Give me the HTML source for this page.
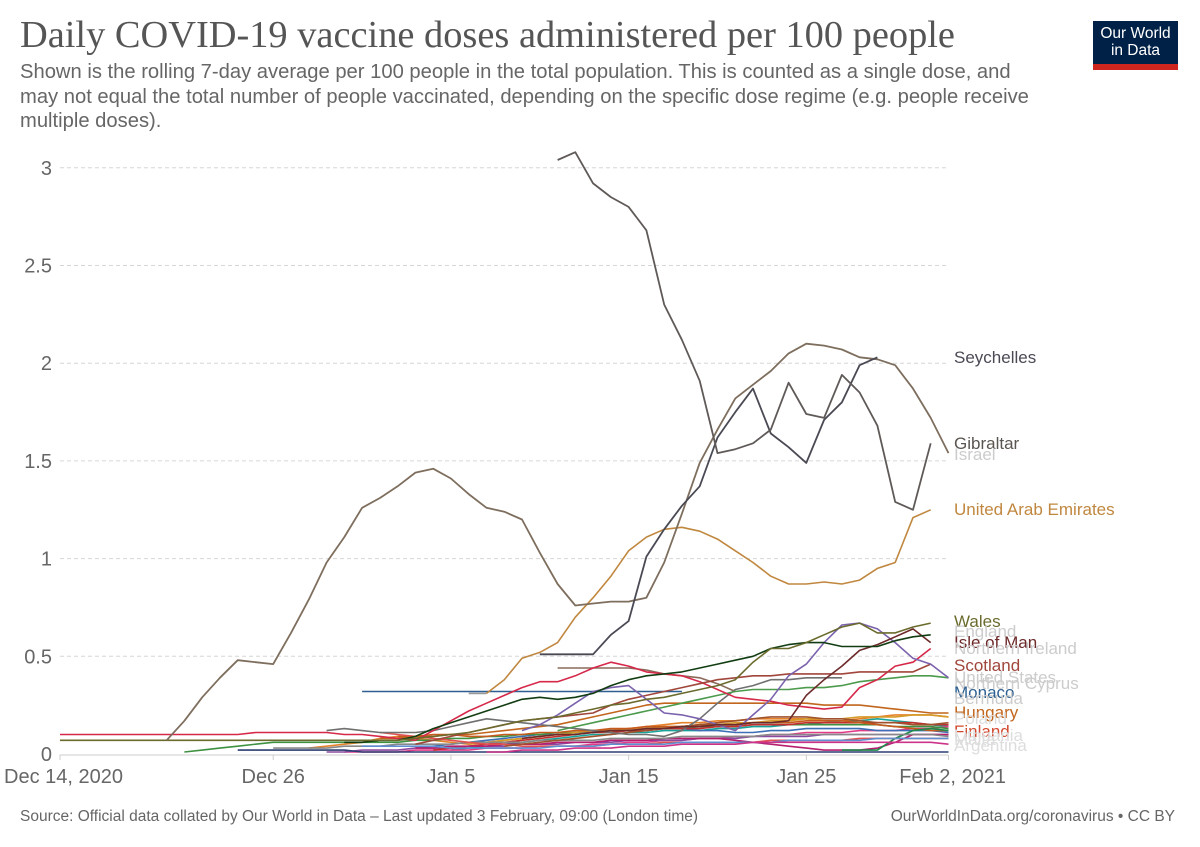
<!DOCTYPE html>
<html><head><meta charset="utf-8">
<style>
html,body{margin:0;padding:0;background:#fff;}
body{width:1200px;height:847px;position:relative;overflow:hidden;font-family:"Liberation Sans",Arial,sans-serif;}
#title{position:absolute;left:20px;top:13px;font-family:"Liberation Serif",serif;font-size:38.4px;line-height:44px;color:#555;white-space:nowrap;margin:0;font-weight:normal;}
#subtitle{position:absolute;left:20px;top:60px;width:1032px;font-size:20.2px;line-height:24.5px;color:#666;margin:0;}
#logo{position:absolute;left:1093px;top:21px;width:85px;height:49px;background:#002147;color:#fff;text-align:center;font-size:15.5px;line-height:17px;box-sizing:border-box;padding-top:4px;}
#logo .red{position:absolute;left:0;bottom:0;width:100%;height:6px;background:#ce261e;}
#source{position:absolute;left:20px;top:808px;font-size:15.5px;color:#666;white-space:nowrap;}
#license{position:absolute;right:25px;top:808px;font-size:15.5px;color:#666;white-space:nowrap;}
svg{position:absolute;left:0;top:0;}
</style></head>
<body>
<h1 id="title">Daily COVID-19 vaccine doses administered per 100 people</h1>
<p id="subtitle">Shown is the rolling 7-day average per 100 people in the total population. This is counted as a single dose, and may not equal the total number of people vaccinated, depending on the specific dose regime (e.g. people receive multiple doses).</p>
<div id="logo">Our World<br>in Data<div class="red"></div></div>
<svg id="chart" width="1200" height="847"></svg>
<div id="source">Source: Official data collated by Our World in Data – Last updated 3 February, 09:00 (London time)</div>
<div id="license">OurWorldInData.org/coronavirus • CC BY</div>
<script>
// ---- data (day index 0 = Dec 14, 2020) ----
const xTickDays = [0, 12, 22, 32, 42, 50];
const xTickLabels = ["Dec 14, 2020", "Dec 26", "Jan 5", "Jan 15", "Jan 25", "Feb 2, 2021"];
const yTicks = [0, 0.5, 1, 1.5, 2, 2.5, 3];
const yTickLabels = ["0", "0.5", "1", "1.5", "2", "2.5", "3"];

const israelStart = 6;
const israelValues = [.07,.17,.29,.39,.48,.47,.46,.62,.79,.98,1.11,1.26,1.31,1.37,1.44,1.46,1.41,1.33,1.26,1.24,1.20,1.03,.87,.76,.77,.78,.78,.80,.98,1.23,1.49,1.66,1.82,1.89,1.96,2.05,2.10,2.09,2.07,2.03,2.02,1.99,1.87,1.72,1.54];
const gibraltarStart = 28;
const gibraltarValues = [3.04,3.08,2.92,2.85,2.80,2.68,2.30,2.12,1.91,1.54,1.56,1.59,1.66,1.90,1.74,1.72,1.94,1.85,1.68,1.29,1.25,1.59];
const seychellesStart = 27;
const seychellesValues = [.51,.51,.51,.51,.61,.68,1.01,1.15,1.27,1.37,1.62,1.75,1.87,1.64,1.57,1.49,1.71,1.80,1.99,2.03];
const uaeStart = 24;
const uaeValues = [.31,.38,.49,.52,.57,.70,.80,.91,1.04,1.11,1.15,1.16,1.14,1.10,1.04,.98,.91,.87,.87,.88,.87,.89,.95,.98,1.21,1.25];
const walesStart = 0;
const walesValues = [.07,.07,.07,.07,.07,.07,.07,.07,.07,.07,.07,.07,.07,.07,.07,.07,.07,.07,.07,.07,.08,.09,.10,.11,.13,.15,.17,.18,.19,.21,.23,.25,.26,.28,.29,.31,.33,.35,.38,.47,.54,.54,.57,.61,.65,.67,.62,.62,.65,.67];
const englandStart = 16;
const englandValues = [.06,.06,.07,.07,.09,.13,.16,.19,.22,.25,.28,.29,.28,.29,.31,.35,.38,.40,.41,.42,.44,.46,.48,.50,.54,.56,.57,.57,.55,.55,.55,.58,.60,.61];
const isleOfManStart = 26;
const isleOfManValues = [.08,.09,.10,.10,.11,.12,.12,.13,.13,.14,.14,.15,.15,.16,.16,.17,.30,.38,.45,.53,.56,.60,.64,.57];
const northernIrelandStart = 26;
const northernIrelandValues = [.12,.15,.20,.26,.32,.34,.35,.28,.21,.20,.18,.15,.12,.20,.28,.40,.46,.57,.66,.67,.64,.57,.49,.46,.39];
const scotlandStart = 20;
const scotlandValues = [.05,.07,.09,.11,.13,.15,.17,.18,.19,.20,.21,.25,.28,.30,.32,.34,.36,.38,.39,.40,.40,.41,.41,.41,.41,.42,.42,.42,.42,.46];
const crimsonStart = 0;
const crimsonValues = [.10,.10,.10,.10,.10,.10,.10,.10,.10,.10,.10,.11,.11,.11,.11,.11,.10,.10,.09,.08,.07,.12,.17,.22,.26,.30,.34,.37,.37,.40,.44,.47,.45,.42,.41,.40,.37,.33,.29,.28,.27,.25,.24,.23,.24,.34,.38,.45,.47,.54];
const monacoStart = 17;
const monacoValues = [.32,.32,.32,.32,.32,.32,.32,.32,.32,.32,.32,.32,.32,.32,.32,.32,.32,.32,.32];
const usStart = 28;
const usValues = [.12,.14,.16,.18,.20,.22,.24,.26,.28,.30,.32,.33,.33,.33,.34,.34,.35,.37,.38,.39,.40,.40,.39];
const cyprusStart = 28;
const cyprusValues = [.44,.44,.44,.44,.44,.43,.41,.40,.39,.36,.32];
const grayStart = 15;
const grayValues = [.12,.13,.12,.11,.11,.11,.12,.14,.16,.18,.17,.16,.15,.14,.13,.12,.11,.10,.10,.09,.12,.18,.26,.33,.35,.38,.38,.39,.39,.39];
const hungaryStart = 18;
const hungaryValues = [.08,.08,.09,.09,.10,.10,.11,.12,.13,.14,.15,.17,.19,.21,.23,.25,.26,.26,.26,.26,.26,.26,.26,.26,.26,.25,.25,.25,.24,.23,.22,.21,.21];
const shortGrayStart = 23;
const shortGrayValues = [.31,.31];

const lowStarts = [22, 14, 16, 20, 7, 15, 21, 10, 20, 23, 19, 44, 12, 18, 25, 17, 24];
const lowValues = [
 [.02,.03,.04,.05,.06,.07,.08,.09,.10,.10,.11,.11,.12,.12,.12,.13,.13,.14,.14,.15,.15,.16,.17,.17,.18,.17,.16,.15,.14],
 [.03,.04,.05,.06,.08,.09,.08,.07,.06,.05,.06,.07,.08,.09,.10,.11,.12,.12,.13,.14,.15,.16,.16,.17,.17,.18,.18,.18,.18,.17,.17,.18,.19,.20,.20,.20,.19],
 [.01,.01,.01,.01,.02,.02,.02,.02,.03,.03,.03,.04,.04,.04,.05,.05,.06,.06,.07,.07,.08,.08,.09,.09,.10,.10,.11,.11,.11,.12,.12,.12,.13,.13,.14],
 [.03,.04,.05,.06,.07,.08,.09,.10,.10,.11,.11,.12,.12,.12,.13,.13,.12,.12,.11,.11,.12,.12,.13,.13,.13,.13,.12,.12,.12,.12,.11],
 [.01,.02,.03,.04,.05,.06,.06,.06,.06,.06,.06,.06,.06,.07,.07,.08,.08,.09,.09,.10,.10,.11,.11,.12,.12,.12,.13,.13,.13,.14,.14,.14,.15,.15,.15,.15,.15,.15,.15,.15,.14,.14,.14,.13],
 [.01,.01,.02,.02,.02,.03,.03,.03,.04,.04,.04,.05,.05,.05,.06,.06,.06,.07,.07,.07,.07,.08,.08,.08,.09,.09,.09,.09,.10,.10,.10,.10,.10,.10,.10,.10],
 [.02,.03,.04,.05,.06,.07,.08,.09,.10,.11,.11,.12,.12,.13,.13,.13,.14,.14,.15,.15,.15,.16,.16,.16,.16,.16,.16,.16,.15,.15],
 [.02,.02,.02,.02,.02,.02,.02,.01,.01,.01,.01,.01,.01,.01,.01,.01,.01,.01,.01,.01,.01,.01,.01,.01,.01,.01,.01,.01,.01,.01,.01,.01,.01,.01,.01,.01,.01,.01,.01,.01,.01],
 [.03,.03,.04,.04,.04,.05,.05,.05,.06,.06,.06,.07,.07,.07,.08,.08,.08,.08,.07,.06,.05,.04,.03,.02,.02,.02,.03,.06,.10,.10,.10],
 [.05,.06,.07,.08,.09,.10,.11,.12,.12,.13,.13,.14,.14,.15,.15,.16,.16,.17,.17,.18,.18,.18,.19,.19,.19,.20,.20,.19],
 [.09,.09,.10,.10,.09,.09,.10,.10,.11,.11,.12,.12,.13,.13,.14,.14,.14,.15,.15,.15,.16,.16,.16,.17,.17,.17,.16,.15,.14,.13,.12,.12],
 [.02,.02,.02,.08,.12,.13,.12],
 [.03,.03,.03,.03,.04,.04,.04,.05,.05,.05,.05,.06,.06,.06,.06,.07,.07,.07,.07,.08,.08,.08,.08,.09,.09,.09,.09,.09,.10,.10,.10,.10,.10,.10,.10,.10,.10,.10,.09],
 [.11,.10,.09,.08,.07,.06,.05,.05,.04,.04,.04,.04,.04,.05,.05,.05,.06,.06,.06,.06,.06,.06,.07,.07,.07,.07,.07,.08,.08,.08,.08,.08,.08],
 [.04,.05,.06,.07,.08,.09,.10,.11,.12,.13,.14,.15,.16,.17,.18,.19,.19,.19,.18,.18,.17,.16,.16,.15,.15,.16],
 [.04,.04,.04,.04,.04,.03,.03,.03,.03,.03,.03,.04,.04,.04,.05,.05,.05,.05,.06,.06,.06,.06,.06,.06,.07,.07,.07,.07,.07,.08,.08,.08,.08,.08],
 [.01,.01,.02,.02,.02,.03,.03,.03,.04,.04,.04,.05,.05,.05,.05,.06,.06,.06,.06,.06,.06,.06,.06,.06,.06,.06,.05]
];
const lowColors = ["#18a39a","#e5822a","#e23b87","#3c6fb5","#3d9140","#8b4aa0","#c42e2e","#2b3f72","#b51f6e","#d59a2a","#c65a1e","#1c8a4a","#888888","#e05050","#a0522d","#5f8fd0","#cc3388"];

const labelNames = ["Seychelles","Gibraltar","Israel","United Arab Emirates","Wales","England","Isle of Man","Northern Ireland","Scotland","United States","Northern Cyprus","Monaco","Bermuda","Hungary","Poland","Finland","Lithuania","Malta","Argentina"];
const labelY = [363,449,460,515,627,637,648,654,671,683,689,698,704,718,724,737,741,745,751];
const labelColors = ["#4a4a55","#5a5550","#cccccc","#c0873f","#6b6b2d","#cccccc","#6d2a2a","#cccccc","#a0463a","#cccccc","#cccccc","#2d5f91","#cccccc","#c2661d","#dddddd","#d2492f","#dddddd","#dddddd","#dddddd"];

// ---- scales ----
const X0 = 60, PX_PER_DAY = 17.77, Y0 = 754, PX_PER_UNIT = 195.4;
const xs = d => X0 + d * PX_PER_DAY;
const ys = v => Y0 - v * PX_PER_UNIT;

const svg = document.getElementById('chart');
const NS = 'http://www.w3.org/2000/svg';
function mk(tag, attrs){ const e = document.createElementNS(NS, tag); for (const k in attrs) e.setAttribute(k, attrs[k]); svg.appendChild(e); return e; }

yTicks.forEach((t, i) => {
  if (t > 0) {
    const g = mk('line', {x1: 60, x2: 947, y1: ys(t), y2: ys(t), stroke: '#d6d6d6', 'stroke-width': 1, 'stroke-dasharray': '4,3'});
    
    
  }
  const tx = mk('text', {x: 52, y: ys(t) + 7, 'text-anchor': 'end', 'font-size': 20, fill: '#666', 'font-family': 'Liberation Sans, sans-serif'});
  tx.textContent = yTickLabels[i];
  
  
});
const ax = mk('line', {x1: 60, x2: 948, y1: 755, y2: 755, stroke: '#ccc', 'stroke-width': 1});


xTickDays.forEach((d, i) => {
  const tk = mk('line', {x1: xs(d), x2: xs(d), y1: 755, y2: 760, stroke: '#ccc'});
  
  
  let anchor = 'middle', x = xs(d);
  if (i === 0) { anchor = 'start'; x = 4; }
  if (i === xTickDays.length - 1) { anchor = 'end'; x = 1006; }
  const tx = mk('text', {x: x, y: 783, 'text-anchor': anchor, 'font-size': 20, fill: '#666', 'font-family': 'Liberation Sans, sans-serif'});
  tx.textContent = xTickLabels[i];
  
  
});

function drawLine(start, vals, color, name, w){
  const pts = vals.map((v, i) => xs(start + i).toFixed(1) + ',' + ys(v).toFixed(1)).join(' ');
  const p = mk('polyline', {points: pts, fill: 'none', stroke: color, 'stroke-width': w || 1.6, 'stroke-linejoin': 'round'});
  
  
}
lowValues.forEach((vals, i) => drawLine(lowStarts[i], vals, lowColors[i], 'series-line-minor'));
drawLine(shortGrayStart, shortGrayValues, '#999', 'series-line-short');
drawLine(hungaryStart, hungaryValues, '#c2661d', 'series-line-hungary');
drawLine(grayStart, grayValues, '#707070', 'series-line-gray');
drawLine(cyprusStart, cyprusValues, '#8a6a5a', 'series-line-northern-cyprus');
drawLine(usStart, usValues, '#4c9a4c', 'series-line-united-states');
drawLine(monacoStart, monacoValues, '#2d5f91', 'series-line-monaco');
drawLine(crimsonStart, crimsonValues, '#d6294a', 'series-line-finland');
drawLine(scotlandStart, scotlandValues, '#a0463a', 'series-line-scotland');
drawLine(northernIrelandStart, northernIrelandValues, '#7b62ad', 'series-line-northern-ireland');
drawLine(isleOfManStart, isleOfManValues, '#6d2a2a', 'series-line-isle-of-man');
drawLine(englandStart, englandValues, '#123d12', 'series-line-england');
drawLine(walesStart, walesValues, '#6b6b2d', 'series-line-wales');
drawLine(uaeStart, uaeValues, '#c0873f', 'series-line-uae');
drawLine(israelStart, israelValues, '#7e6e5e', 'series-line-israel', 1.8);
drawLine(seychellesStart, seychellesValues, '#4a4a55', 'series-line-seychelles', 1.8);
drawLine(gibraltarStart, gibraltarValues, '#5f5a58', 'series-line-gibraltar', 1.8);

labelNames.forEach((n, i) => {
  const t = mk('text', {x: 954, y: labelY[i], 'font-size': 17, fill: labelColors[i], 'font-family': 'Liberation Sans, sans-serif'});
  t.textContent = n;
  
  
});
</script>
</body></html>
